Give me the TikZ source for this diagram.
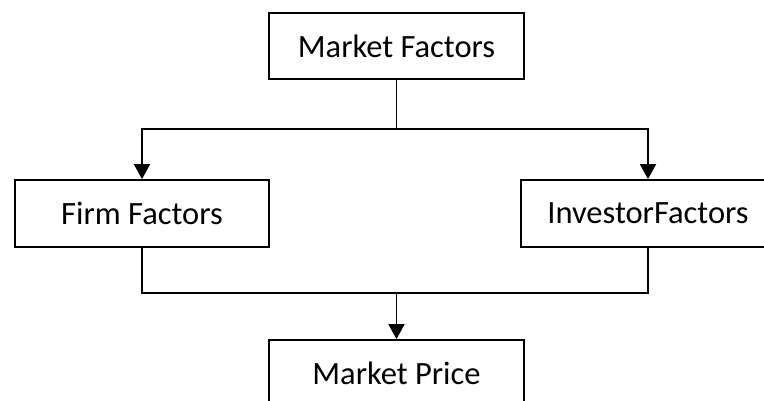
\documentclass[tikz,border=0pt]{standalone}
\usepackage{fontspec}
\setmainfont{Carlito}
\usetikzlibrary{arrows.meta}
\begin{document}
\begin{tikzpicture}[x=1pt,y=-1pt,
  box/.style={draw=black,line width=1.8pt,fill=white,inner sep=0pt,font=\fontsize{32.5}{36}\selectfont},
  conn/.style={line width=1.9pt},
  arr/.style={conn,-{Triangle[width=16pt,length=15pt]}}]
\useasboundingbox (0,0) rectangle (764,400);
\clip (0,0) rectangle (764,400);
\node[box,minimum width=255pt,minimum height=66pt] (mf) at (396.5,46) {Market Factors};
\node[box,minimum width=254pt,minimum height=67pt] (ff) at (142,213.5) {Firm Factors};
\node[box,minimum width=254pt,minimum height=67pt] (if) at (648,213.5) {InvestorFactors};
\node[box,minimum width=255pt,minimum height=66pt] (mp) at (396.5,373) {Market Price};
\coordinate (j1) at (396.5,129);
\coordinate (j2) at (396.5,293);
\draw[conn] (mf.south) -- (j1);
\draw[arr] (j1) -| (ff.north);
\draw[arr] (j1) -| (if.north);
\draw[conn] (ff.south) |- (j2);
\draw[conn] (if.south) |- (j2);
\draw[arr] (j2) -- (mp.north);
\end{tikzpicture}
\end{document}
